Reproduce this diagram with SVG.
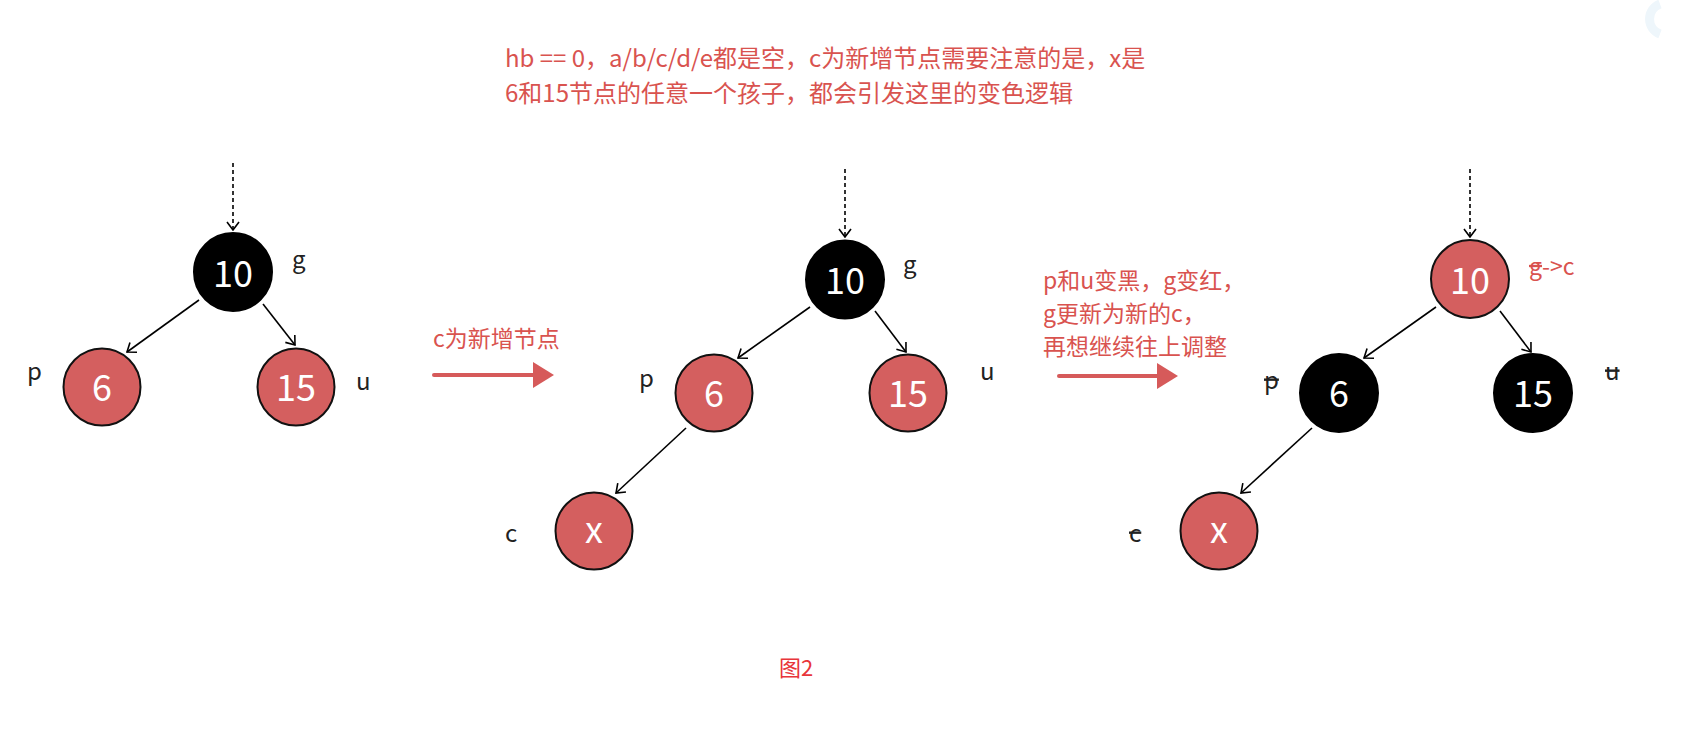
<svg xmlns="http://www.w3.org/2000/svg" width="1701" height="746" viewBox="0 0 1701 746">
  <style>
    .red { fill: #d45f5f; stroke: #111; stroke-width: 2; }
    .blk { fill: #000; stroke: #000; stroke-width: 2; }
    .num { font-family: "Noto Sans CJK SC", "Noto Sans", sans-serif; font-size: 36px; fill: #fff; text-anchor: middle; }
    .lbl { font-family: "Noto Sans CJK SC", "Noto Sans", sans-serif; font-size: 24px; fill: #222; }
    .note { font-family: "Noto Sans CJK SC", "Noto Sans", sans-serif; fill: #d9534f; }
    .edge { stroke: #000; stroke-width: 1.6; fill: none; marker-end: url(#chev); }
    .dash { stroke: #000; stroke-width: 1.6; fill: none; stroke-dasharray: 4 3; marker-end: url(#chev); }
    .rarrow { stroke: #d65a5a; stroke-width: 4; stroke-linecap: round; }
    .rhead { fill: #d65a5a; }
  </style>
  <defs>
    <marker id="chev" viewBox="0 0 10 14" refX="9" refY="7" markerWidth="10" markerHeight="14" markerUnits="userSpaceOnUse" orient="auto">
      <path d="M1,1 L9,7 L1,13" fill="none" stroke="#000" stroke-width="1.6"/>
    </marker>
  </defs>
  <rect width="1701" height="746" fill="#fff"/>
  <path d="M1660,4 A16,16 0 0 0 1660,34" fill="none" stroke="#eef6fb" stroke-width="9"/>

  <g id="top-note" class="note" font-size="24">
    <text x="505" y="67">hb == 0，a/b/c/d/e都是空，c为新增节点需要注意的是，x是</text>
    <text x="505" y="102">6和15节点的任意一个孩子，都会引发这里的变色逻辑</text>
  </g>

  <g id="connectors">
    <line class="dash" x1="233" y1="163" x2="233" y2="230"/>
    <line class="edge" x1="199" y1="300" x2="127" y2="352"/>
    <line class="edge" x1="263" y1="304" x2="295" y2="345"/>

    <line class="dash" x1="845" y1="169" x2="845" y2="237"/>
    <line class="edge" x1="810" y1="307" x2="738" y2="358"/>
    <line class="edge" x1="875" y1="311" x2="906" y2="352"/>
    <line class="edge" x1="686" y1="428" x2="616" y2="493"/>

    <line class="dash" x1="1470" y1="169" x2="1470" y2="237"/>
    <line class="edge" x1="1436" y1="307" x2="1364" y2="358"/>
    <line class="edge" x1="1500" y1="311" x2="1531" y2="352"/>
    <line class="edge" x1="1312" y1="428" x2="1241" y2="493"/>
  </g>

  <g id="tree1">
    <g id="t1-g"><circle class="blk" cx="233" cy="272" r="39"/><text class="num" x="233" y="287">10</text></g>
    <g id="t1-p"><circle class="red" cx="102" cy="387" r="38.5"/><text class="num" x="102" y="401">6</text></g>
    <g id="t1-u"><circle class="red" cx="296" cy="387" r="38.5"/><text class="num" x="296" y="401">15</text></g>
    <text class="lbl" x="292" y="268">g</text>
    <text class="lbl" x="27" y="380">p</text>
    <text class="lbl" x="356" y="390">u</text>
  </g>

  <g id="step1-arrow">
    <text class="note" font-size="23" x="433" y="347">c为新增节点</text>
    <line class="rarrow" x1="434" y1="375" x2="535" y2="375"/>
    <polygon class="rhead" points="533,362 554,375 533,388"/>
  </g>

  <g id="tree2">
    <g id="t2-g"><circle class="blk" cx="845" cy="279.5" r="39"/><text class="num" x="845" y="294">10</text></g>
    <g id="t2-p"><circle class="red" cx="714" cy="393" r="38.5"/><text class="num" x="714" y="407">6</text></g>
    <g id="t2-u"><circle class="red" cx="908" cy="393" r="38.5"/><text class="num" x="908" y="407">15</text></g>
    <g id="t2-c"><circle class="red" cx="594" cy="531" r="38.5"/><text class="num" x="594" y="543">x</text></g>
    <text class="lbl" x="903" y="273">g</text>
    <text class="lbl" x="639" y="387">p</text>
    <text class="lbl" x="980" y="380">u</text>
    <text class="lbl" x="505" y="542">c</text>
  </g>

  <g id="step2-arrow">
    <g class="note" font-size="23">
      <text x="1043" y="289">p和u变黑，g变红，</text>
      <text x="1043" y="322">g更新为新的c，</text>
      <text x="1043" y="355">再想继续往上调整</text>
    </g>
    <line class="rarrow" x1="1059" y1="376" x2="1159" y2="376"/>
    <polygon class="rhead" points="1157,363 1178,376 1157,389"/>
  </g>

  <g id="tree3">
    <g id="t3-g"><circle class="red" cx="1470" cy="279" r="39"/><text class="num" x="1470" y="294">10</text></g>
    <g id="t3-p"><circle class="blk" cx="1339" cy="393" r="39"/><text class="num" x="1339" y="407">6</text></g>
    <g id="t3-u"><circle class="blk" cx="1533" cy="393" r="39"/><text class="num" x="1533" y="407">15</text></g>
    <g id="t3-c"><circle class="red" cx="1219" cy="531" r="38.5"/><text class="num" x="1219" y="543">x</text></g>
    <text class="note" font-size="23" x="1529" y="275"><tspan text-decoration="line-through">g</tspan>-&gt;c</text>
    <text class="lbl" x="1264" y="389" text-decoration="line-through">p</text>
    <text class="lbl" x="1605" y="380" text-decoration="line-through">u</text>
    <text class="lbl" x="1129" y="542" text-decoration="line-through">c</text>
  </g>

  <text id="caption" x="779" y="676" font-family="'Noto Sans CJK SC', 'Noto Sans', sans-serif" font-size="22" fill="#e8353a">图2</text>
</svg>
